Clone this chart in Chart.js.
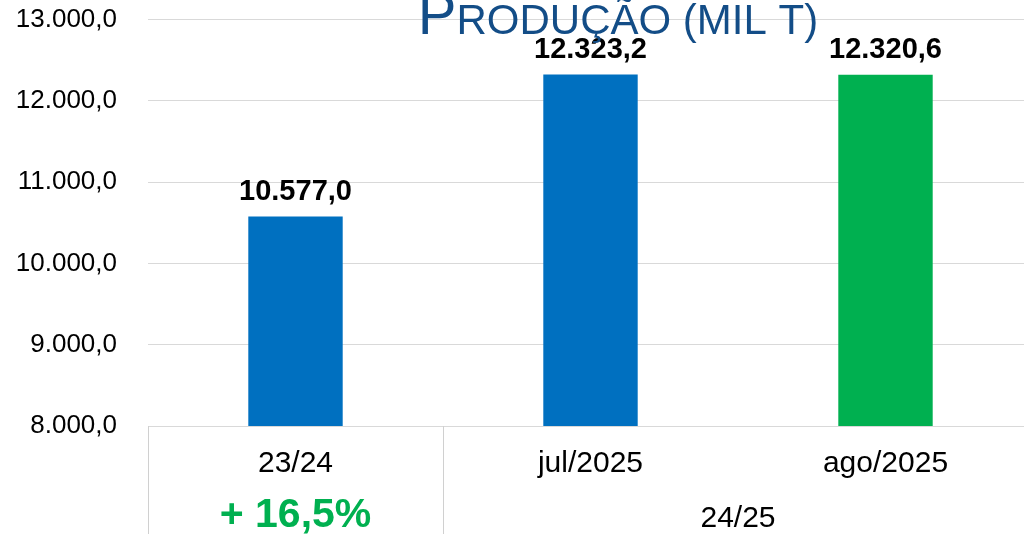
<!DOCTYPE html>
<html>
<head>
<meta charset="utf-8">
<script src="https://cdn.jsdelivr.net/npm/chart.js@4.4.1/dist/chart.umd.min.js"></script>
<style>
  html, body { margin:0; padding:0; background:#fff; overflow:hidden; }
  #wrap { position:absolute; left:0; top:-27px; width:1040px; height:561px; }
</style>
</head>
<body>
<div id="wrap"><canvas id="barChart"></canvas></div>
<script>
const categories = ['23/24', 'jul/2025', 'ago/2025'];
const production = [10577.0, 12323.2, 12320.6];
const barColors = ['#0070C0', '#0070C0', '#00B050'];
const groupLabels = ['+ 16,5%', '24/25'];
const groupStart = [0, 1];
const groupEnd = [0, 2];
const groupColors = ['#00B050', '#000000'];
const yTicks = [8000, 9000, 10000, 11000, 12000, 13000];

const FONT = '"Liberation Sans", Arial, sans-serif';

function fmt(v) {
  const parts = v.toFixed(1).split('.');
  const intPart = parts[0].replace(/\B(?=(\d{3})+(?!\d))/g, '.');
  return intPart + ',' + parts[1];
}

const extras = {
  id: 'extras',
  afterDatasetsDraw(chart) {
    const ctx = chart.ctx;
    const meta = chart.getDatasetMeta(0);
    ctx.save();
    ctx.fillStyle = '#000';
    ctx.font = 'bold 29px ' + FONT;
    ctx.textAlign = 'center';
    ctx.textBaseline = 'alphabetic';
    meta.data.forEach((bar, i) => {
      ctx.fillText(fmt(production[i]), bar.x, bar.y - 17);
    });
    ctx.restore();
  },
  afterDraw(chart) {
    const ctx = chart.ctx;
    const x = chart.scales.x;
    const area = chart.chartArea;
    const half = (x.getPixelForValue(1) - x.getPixelForValue(0)) / 2;
    ctx.save();
    // group separators
    ctx.strokeStyle = '#d0d0d0';
    ctx.lineWidth = 1;
    const bounds = new Set();
    groupStart.forEach((s, g) => {
      bounds.add(Math.round(x.getPixelForValue(s) - half) + 0.5);
      bounds.add(Math.round(x.getPixelForValue(groupEnd[g]) + half) + 0.5);
    });
    bounds.forEach(px => {
      ctx.beginPath();
      ctx.moveTo(px, area.bottom);
      ctx.lineTo(px, chart.height);
      ctx.stroke();
    });
    // group labels
    ctx.textAlign = 'center';
    ctx.textBaseline = 'alphabetic';
    groupLabels.forEach((lbl, g) => {
      const cx = (x.getPixelForValue(groupStart[g]) + x.getPixelForValue(groupEnd[g])) / 2;
      ctx.fillStyle = groupColors[g];
      ctx.font = (g === 0 ? 'bold 41px ' : '30px ') + FONT;
      ctx.fillText(lbl, cx, area.bottom + 101);
    });
    // title in small caps
    const first = 'P', rest = 'RODUÇÃO (MIL T)';
    ctx.fillStyle = '#134D87';
    ctx.font = '58px ' + FONT;
    const w1 = ctx.measureText(first).width;
    ctx.font = '42px ' + FONT;
    const w2 = ctx.measureText(rest).width;
    let tx = 618 - (w1 + w2) / 2;
    const ty = area.top + 14;
    ctx.textAlign = 'left';
    ctx.font = '58px ' + FONT;
    ctx.fillText(first, tx, ty);
    ctx.font = '42px ' + FONT;
    ctx.fillText(rest, tx + w1, ty);
    ctx.restore();
  }
};

new Chart(document.getElementById('barChart'), {
  type: 'bar',
  data: {
    labels: categories,
    datasets: [{
      data: production,
      backgroundColor: barColors,
      barPercentage: 0.32,
      categoryPercentage: 1.0
    }]
  },
  options: {
    responsive: true,
    maintainAspectRatio: false,
    animation: false,
    layout: { padding: { left: 0, right: 7, top: 19, bottom: 0 } },
    plugins: { legend: { display: false }, tooltip: { enabled: false }, title: { display: false } },
    scales: {
      x: {
        grid: { display: false, drawTicks: false },
        border: { display: true, color: '#d9d9d9', width: 1 },
        ticks: { color: '#000', font: { family: FONT, size: 30 }, padding: 20, maxRotation: 0 },
        afterFit(scale) { scale.height = 108; }
      },
      y: {
        min: 8000,
        max: 13000,
        afterBuildTicks(scale) { scale.ticks = yTicks.map(v => ({ value: v })); },
        grid: { color: '#d9d9d9', drawTicks: false },
        border: { display: false },
        ticks: { color: '#000', font: { family: FONT, size: 26 }, padding: 31, callback: v => fmt(v) },
        afterFit(scale) { scale.width = 148; }
      }
    }
  },
  plugins: [extras]
});
</script>
</body>
</html>
